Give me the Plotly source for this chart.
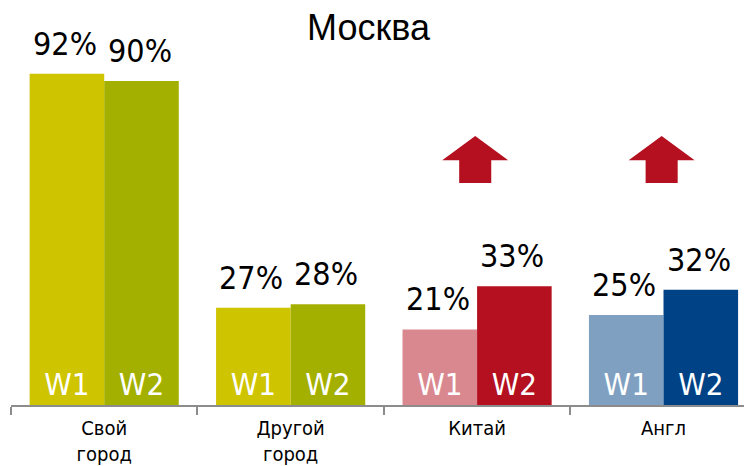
import plotly.graph_objects as go

categories = ["Свой<br>город", "Другой<br>город", "Китай", "Англ"]
w1_values = [92, 27, 21, 25]
w2_values = [90, 28, 33, 32]
w1_colors = ["#CFC400", "#CFC400", "#DA8890", "#80A0C2"]
w2_colors = ["#A4B000", "#A4B000", "#B41020", "#004286"]
series_names = ["W1", "W2"]
arrow_up = [False, False, True, True]
title_text = "Москва"

X_RANGE = [-0.5, 3.48]
Y_RANGE = [0, 100]
LABEL_FONT = "Liberation Sans Narrow, Arial Narrow, DejaVu Sans Condensed, Arial, sans-serif"
PCT_FONT = "DejaVu Sans Condensed, Liberation Sans Narrow, Arial, sans-serif"

fig = go.Figure()
for name, vals, cols in [(series_names[0], w1_values, w1_colors), (series_names[1], w2_values, w2_colors)]:
    fig.add_trace(go.Bar(
        x=categories, y=vals, name=name,
        marker=dict(color=cols, line=dict(width=0)),
        text=[name] * len(vals), textposition="inside", insidetextanchor="start",
        textfont=dict(family=LABEL_FONT, size=31, color="white"),
        textangle=0, cliponaxis=False,
        hoverinfo="skip",
    ))

# percentage labels above bars
bar_half = 0.4 / 2  # each bar occupies half of the 0.8 group width
for i, cat in enumerate(categories):
    for j, vals in enumerate([w1_values, w2_values]):
        offset = (-1 if j == 0 else 1) * bar_half
        fig.add_annotation(
            x=i + offset, y=vals[i], xref="x", yref="y",
            text=f"{vals[i]}%", showarrow=False, yanchor="bottom",
            xshift=-2, yshift=9,
            font=dict(family=PCT_FONT, size=32, color="black"),
        )

# up arrows
span = X_RANGE[1] - X_RANGE[0]
def px(v):
    return (v - X_RANGE[0]) / span
for i, up in enumerate(arrow_up):
    if not up:
        continue
    c = i - 0.01
    hw, sw = 0.177, 0.086
    top, mid, bot = 74.7, 68.0, 61.7
    path = (f"M {px(c - sw)} {bot} L {px(c - sw)} {mid} L {px(c - hw)} {mid} "
            f"L {px(c)} {top} L {px(c + hw)} {mid} L {px(c + sw)} {mid} L {px(c + sw)} {bot} Z")
    fig.add_shape(type="path", path=path, xref="paper", yref="y",
                  fillcolor="#B41020", line=dict(width=0))

# title as annotation (fixed position)
fig.add_annotation(
    text=title_text, xref="paper", yref="paper", x=0.482, y=1.0, yshift=39,
    xanchor="center", yanchor="top", showarrow=False, borderpad=0,
    font=dict(family="Liberation Sans, Arial, sans-serif", size=36, color="black"),
)

fig.update_layout(
    width=752, height=466,
    margin=dict(l=3, r=7, t=37, b=69, autoexpand=False),
    paper_bgcolor="white", plot_bgcolor="white",
    barmode="group", bargap=0.2, bargroupgap=0,
    showlegend=False,
    xaxis=dict(
        range=X_RANGE, showline=True, linecolor="#8C8C8C", linewidth=2,
        ticks="outside", tickson="boundaries", ticklen=8, tickwidth=2, tickcolor="#8C8C8C",
        tickfont=dict(family=LABEL_FONT, size=20, color="black"), ticklabelstandoff=4,
        showgrid=False, zeroline=False, fixedrange=True, automargin=False,
    ),
    yaxis=dict(range=Y_RANGE, visible=False, showgrid=False, zeroline=False,
               fixedrange=True, automargin=False),
    uniformtext=dict(minsize=8, mode="show"),
)

fig.write_html("out.html")
